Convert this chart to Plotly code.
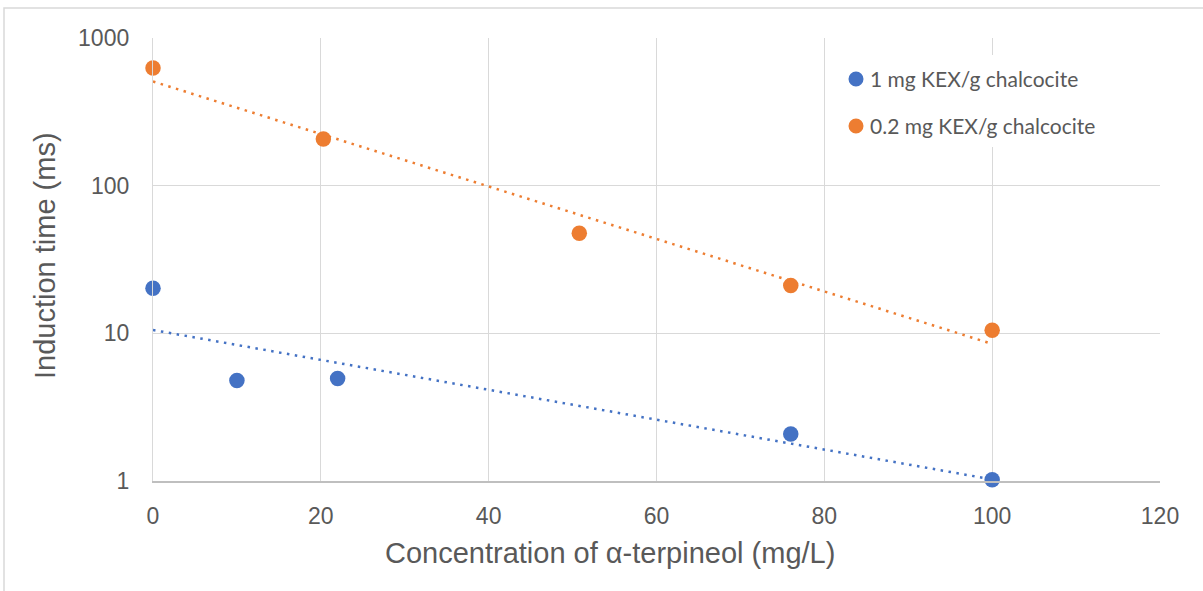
import numpy as np
import plotly.graph_objects as go

# ---- data ----
series_names = ["1 mg KEX/g chalcocite", "0.2 mg KEX/g chalcocite"]
conc_1mg = [0, 10, 22, 76, 100]
time_1mg = [20.2, 4.8, 4.95, 2.08, 1.02]
conc_02mg = [0, 20.3, 50.8, 76, 100]
time_02mg = [627, 207, 47.6, 21.1, 10.5]
series_colors = ["#4472C4", "#ED7D31"]
x_ticks = [0, 20, 40, 60, 80, 100, 120]
y_ticks = [1, 10, 100, 1000]
y_ticktext = ["1", "10", "100", "1000"]

W, H = 1203, 591
L, R, T, B = 153, 43, 38, 110
PW, PH = W - L - R, H - T - B


def px(xp):
    return (xp - L) / PW


def py(yp):
    return 1 - (yp - T) / PH


fig = go.Figure()

# exponential trendlines (least-squares fit of log(y), like Excel)
for xs, ys, col in [(conc_1mg, time_1mg, series_colors[0]),
                    (conc_02mg, time_02mg, series_colors[1])]:
    b, a = np.polyfit(np.array(xs, float), np.log(np.array(ys, float)), 1)
    tx = np.linspace(min(xs), max(xs), 50)
    fig.add_trace(go.Scatter(x=tx, y=np.exp(a + b * tx), mode="lines",
                             line=dict(color=col, width=2.5, dash="2.5px,5.5px"),
                             showlegend=False, hoverinfo="skip", cliponaxis=False))

for xs, ys, col, name in [(conc_1mg, time_1mg, series_colors[0], series_names[0]),
                          (conc_02mg, time_02mg, series_colors[1], series_names[1])]:
    fig.add_trace(go.Scatter(x=xs, y=ys, mode="markers", name=name,
                             marker=dict(color=col, size=15.5, line=dict(width=0)),
                             showlegend=False, cliponaxis=False))

grid = "#d9d9d9"
tick_font = dict(family="Liberation Sans, Arial", size=23, color="#595959")
title_font = dict(family="Liberation Sans, Arial", size=29, color="#595959")

fig.update_layout(
    width=W, height=H,
    margin=dict(l=L, r=R, t=T, b=B),
    paper_bgcolor="white", plot_bgcolor="white",
    showlegend=False,
    xaxis=dict(range=[0, 120], tickvals=x_ticks, showgrid=True, gridcolor=grid,
               gridwidth=1.3, zeroline=False, showline=True, linecolor="#bfbfbf",
               linewidth=1.5, ticks="", tickfont=tick_font, ticklabelstandoff=14),
    yaxis=dict(type="log", range=[0, 3], tickvals=y_ticks, ticktext=y_ticktext,
               showgrid=True, gridcolor=grid, gridwidth=1.3, zeroline=False,
               showline=True, linecolor=grid, linewidth=1.3, ticks="",
               tickfont=tick_font, ticklabelstandoff=18),
)

shapes = [
    # outer chart border
    dict(type="rect", xref="paper", yref="paper", x0=px(4), x1=px(1212),
         y0=py(600), y1=py(8), line=dict(color=grid, width=1.5), layer="below"),
    # legend background
    dict(type="rect", xref="paper", yref="paper", x0=px(840), x1=px(1120),
         y0=py(147), y1=py(55), fillcolor="white", line=dict(width=0), layer="above"),
]
annotations = [
    dict(text="Concentration of α-terpineol (mg/L)", xref="paper", yref="paper",
         x=px(609.5), y=py(553), showarrow=False, font=title_font,
         xanchor="center", yanchor="middle"),
    dict(text="Induction time (ms)", xref="paper", yref="paper",
         x=px(45), y=py(256), showarrow=False, font=title_font, textangle=-90,
         xanchor="center", yanchor="middle"),
]
legend_font = dict(family="Lato, Carlito, sans-serif", size=21, color="#595959")
for name, col, ycen in [(series_names[0], series_colors[0], 79),
                        (series_names[1], series_colors[1], 126)]:
    shapes.append(dict(type="circle", xref="paper", yref="paper",
                       xsizemode="pixel", ysizemode="pixel",
                       xanchor=px(856), yanchor=py(ycen),
                       x0=-7.5, x1=7.5, y0=-7.5, y1=7.5,
                       fillcolor=col, line=dict(width=0), layer="above"))
    annotations.append(dict(text=name, xref="paper", yref="paper", x=px(868),
                            y=py(ycen), showarrow=False, font=legend_font,
                            xanchor="left", yanchor="middle"))

fig.update_layout(shapes=shapes, annotations=annotations)
fig.write_html("out.html")
